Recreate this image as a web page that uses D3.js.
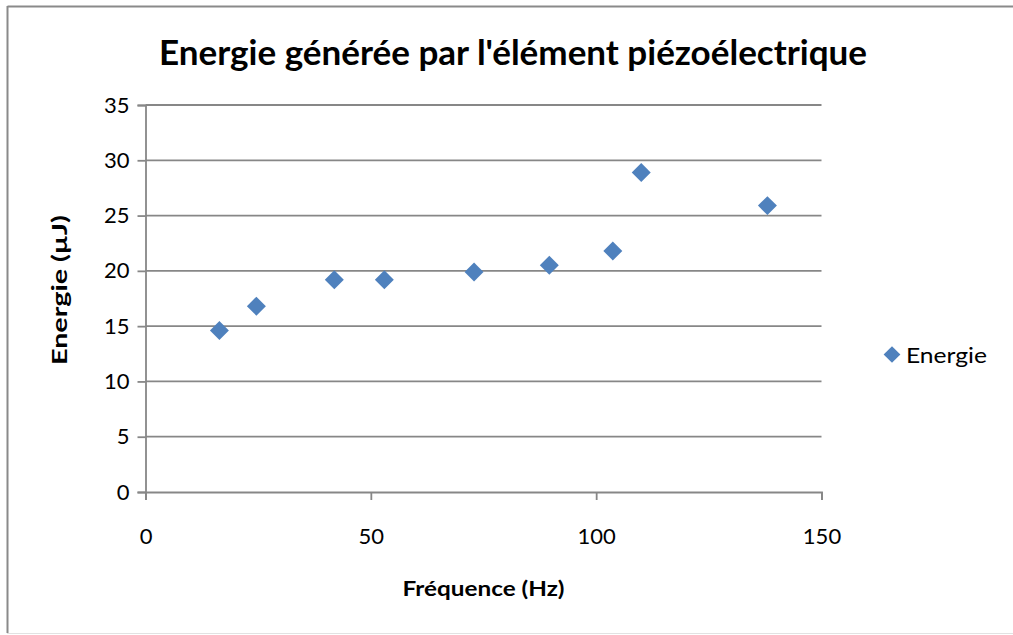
<!DOCTYPE html>
<html>
<head>
<meta charset="utf-8">
<script src="https://cdn.jsdelivr.net/npm/d3@7"></script>
<style>
  html, body { margin: 0; padding: 0; background: #ffffff; }
  svg { display: block; font-family: Lato, "Open Sans", sans-serif; }
</style>
</head>
<body>
<svg id="chart" width="1013" height="635"></svg>
<script>
// Energy measured against excitation frequency
const frequencies = [16.4, 24.6, 41.9, 53.0, 72.9, 89.6, 103.7, 110.0, 138.0];
const energies    = [14.6, 16.8, 19.2, 19.2, 19.9, 20.5, 21.8, 28.9, 25.9];
const xTicks = [0, 50, 100, 150];
const yTicks = [0, 5, 10, 15, 20, 25, 30, 35];
const seriesName = "Energie";
const chartTitle = "Energie générée par l'élément piézoélectrique";
const xTitle = "Fréquence (Hz)";
const yTitle = "Energie (µJ)";

const svg = d3.select("#chart");
const W = 1013, H = 635;
const plot = { left: 145.5, right: 821.5, top: 105, bottom: 492 };
const grey = "#878787";
const blue = "#4F81BD";
const tickFont = 22;

// outer chart frame
svg.append("line").attr("x1", 7.5).attr("x2", W).attr("y1", 6.5).attr("y2", 6.5)
  .attr("stroke", "#8a8a8a").attr("stroke-width", 2);
svg.append("line").attr("x1", 7.5).attr("x2", 7.5).attr("y1", 6).attr("y2", 633)
  .attr("stroke", "#8a8a8a").attr("stroke-width", 2);
svg.append("line").attr("x1", 7).attr("x2", W).attr("y1", 633.5).attr("y2", 633.5)
  .attr("stroke", "#e2e2e2").attr("stroke-width", 1);

const x = d3.scaleLinear().domain([0, 150]).range([plot.left, plot.right]);
const y = d3.scaleLinear().domain([0, 35]).range([plot.bottom, plot.top]);

// horizontal gridlines
svg.append("g")
  .selectAll("line")
  .data(yTicks.filter(t => t > 0))
  .join("line")
  .attr("x1", plot.left).attr("x2", plot.right)
  .attr("y1", d => y(d)).attr("y2", d => y(d))
  .attr("stroke", grey).attr("stroke-width", 1.8);

// y axis
const yAxis = svg.append("g")
  .attr("transform", `translate(${plot.left},0)`)
  .call(d3.axisLeft(y).tickValues(yTicks).tickSize(8).tickPadding(8).tickFormat(d3.format("d")));
yAxis.select(".domain").attr("stroke", grey).attr("stroke-width", 1.8);
yAxis.selectAll(".tick line").attr("stroke", grey).attr("stroke-width", 1.8);
yAxis.selectAll(".tick text").attr("font-size", tickFont).attr("fill", "#000")
  .attr("font-family", "Lato, sans-serif");

// x axis
const xAxis = svg.append("g")
  .attr("transform", `translate(0,${plot.bottom})`)
  .call(d3.axisBottom(x).tickValues(xTicks).tickSize(8).tickPadding(28).tickFormat(d3.format("d")));
xAxis.select(".domain").attr("stroke", grey).attr("stroke-width", 1.8);
xAxis.selectAll(".tick line").attr("stroke", grey).attr("stroke-width", 1.8);
xAxis.selectAll(".tick text").attr("font-size", tickFont).attr("fill", "#000")
  .attr("font-family", "Lato, sans-serif");

// data markers (diamonds)
const diamond = d3.symbol().type(d3.symbolSquare).size(180);
svg.append("g")
  .selectAll("path")
  .data(frequencies.map((f, i) => ({ f, e: energies[i] })))
  .join("path")
  .attr("d", diamond)
  .attr("transform", d => `translate(${x(d.f)},${y(d.e)}) rotate(45)`)
  .attr("fill", blue);

// chart title
svg.append("text")
  .attr("x", 513).attr("y", 65)
  .attr("text-anchor", "middle")
  .attr("font-size", 34).attr("font-weight", "bold")
  .attr("textLength", 708).attr("lengthAdjust", "spacingAndGlyphs")
  .text(chartTitle);

// axis titles
svg.append("text")
  .attr("x", (plot.left + plot.right) / 2).attr("y", 596)
  .attr("text-anchor", "middle")
  .attr("font-size", 21).attr("font-weight", "bold")
  .attr("textLength", 162).attr("lengthAdjust", "spacingAndGlyphs")
  .text(xTitle);

svg.append("text")
  .attr("transform", `translate(67,${290}) rotate(-90)`)
  .attr("text-anchor", "middle")
  .attr("font-size", 21).attr("font-weight", "bold")
  .attr("textLength", 150).attr("lengthAdjust", "spacingAndGlyphs")
  .text(yTitle);

// legend
const legend = svg.append("g").attr("transform", "translate(892,354.5)");
legend.append("path")
  .attr("d", d3.symbol().type(d3.symbolSquare).size(140))
  .attr("transform", "rotate(45)")
  .attr("fill", blue);
legend.append("text")
  .attr("x", 14).attr("y", 8)
  .attr("font-size", tickFont)
  .attr("textLength", 81).attr("lengthAdjust", "spacingAndGlyphs")
  .text(seriesName);
</script>
</body>
</html>
